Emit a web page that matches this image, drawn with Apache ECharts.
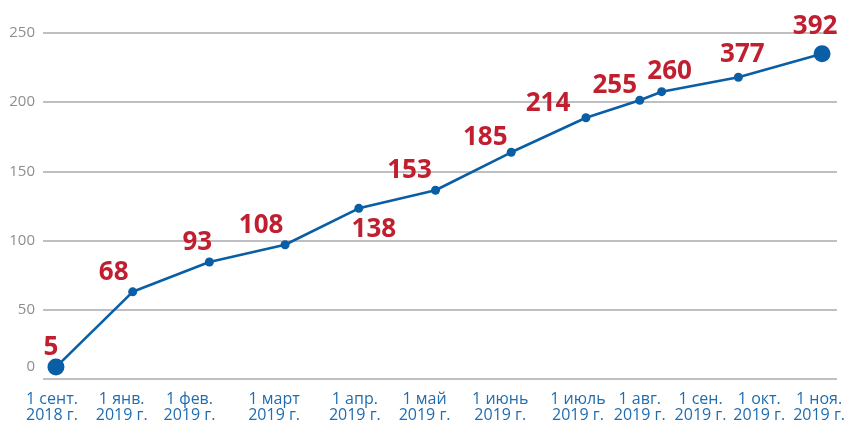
<!DOCTYPE html>
<html>
<head>
<meta charset="utf-8">
<script src="https://cdn.jsdelivr.net/npm/echarts@6/dist/echarts.min.js"></script>
<style>
html,body{margin:0;padding:0;background:#fff;}
#c{width:848px;height:423px;}
</style>
</head>
<body>
<div id="c"></div>
<script>
// Positions along the (non-uniform) timeline, and plotted values
var pointPos = [13, 90, 167, 243, 317, 394, 470, 545, 599, 621, 698, 782];
var pointValues = [8.6, 63, 84.5, 97, 123.3, 136.4, 163.8, 188.8, 201.4, 207.6, 218, 235];
// Numbers printed next to the points
var pointLabels = [5, 68, 93, 108, 138, 153, 185, 214, 255, 260, 377, 392];
// X axis tick labels and their positions on the timeline
var tickPos = [9, 79, 147, 232, 313, 383, 459, 537, 599, 660, 719, 779];
var tickLabels = [
  '1 сент.\n2018 г.', '1 янв.\n2019 г.', '1 фев.\n2019 г.', '1 март\n2019 г.',
  '1 апр.\n2019 г.', '1 май\n2019 г.', '1 июнь\n2019 г.', '1 июль\n2019 г.',
  '1 авг.\n2019 г.', '1 сен.\n2019 г.', '1 окт.\n2019 г.', '1 ноя.\n2019 г.'
];
var yTicks = [0, 50, 100, 150, 200, 250];

// label placement (style)
var labelOffsets = [[-5,-20],[-19,-19],[-12,-19],[-24,-19],[15,21],[-26,-20],[-26,-15],[-38,-14],[-25,-15],[8,-20],[4,-23],[-7,-27]];

var data = pointPos.map(function (x, i) {
  var big = (i === 0 || i === pointPos.length - 1);
  return {
    value: [x, pointValues[i]],
    symbolSize: big ? 17 : 9,
    label: {
      show: true,
      position: 'inside',
      offset: labelOffsets[i],
      formatter: String(pointLabels[i])
    }
  };
});

var chart = echarts.init(document.getElementById('c'));
chart.setOption({
  animation: false,
  grid: {left: 43, right: 8, top: 33, bottom: 43},
  xAxis: {
    type: 'value', min: 0, max: 797,
    axisLine: {show: false},
    axisTick: {show: false},
    splitLine: {show: false},
    axisLabel: {
      customValues: tickPos,
      formatter: function (v) {
        var i = tickPos.indexOf(v);
        return i >= 0 ? tickLabels[i] : '';
      },
      color: '#1f6db0',
      fontFamily: 'Open Sans',
      fontSize: 16,
      lineHeight: 16,
      margin: 12,
      hideOverlap: false
    }
  },
  yAxis: {
    type: 'value', min: 0, max: 250, interval: 50,
    axisLine: {show: false},
    axisTick: {show: false},
    splitLine: {lineStyle: {color: '#bfbfc3', width: 2}},
    axisLabel: {
      color: '#8e8e8e',
      fontFamily: 'Open Sans',
      fontSize: 15,
      margin: 8,
      formatter: function (v) { return v === 0 ? '{z|0}' : String(v); },
      rich: {z: {color: '#8e8e8e', fontFamily: 'Open Sans', fontSize: 15, padding: [0, 0, 24, 0]}}
    }
  },
  series: [{
    type: 'line',
    data: data,
    symbol: 'circle',
    lineStyle: {color: '#0a5ea6', width: 2.6},
    itemStyle: {color: '#0a5ea6'},
    label: {
      color: '#c01f30',
      fontFamily: 'Open Sans',
      fontWeight: 'bold',
      fontSize: 26,
      align: 'center',
      verticalAlign: 'middle'
    },
    z: 3
  }]
});
</script>
</body>
</html>
